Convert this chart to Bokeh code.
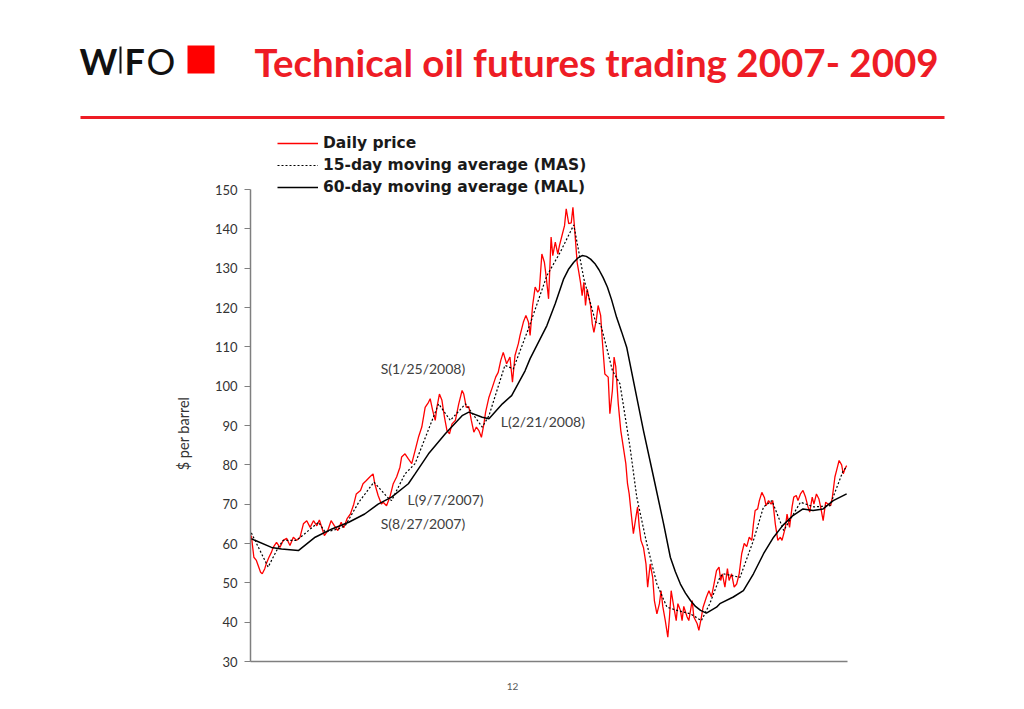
import math
from bokeh.plotting import figure
from bokeh.models import (Range1d, FixedTicker, Label, Legend, LegendItem, BoxAnnotation)
from bokeh.embed import file_html
from bokeh.resources import INLINE

# ---------------- data (trading-day index since early Jan 2007) ----------------
price_day = [1, 4, 7, 12, 14, 17, 19, 22, 25, 27, 31, 35, 39, 43, 47, 51, 55, 59, 63, 67,
             71, 75, 79, 82, 85, 88, 92, 96, 100, 104, 108, 111, 115, 119, 123, 126, 131, 134, 138, 142,
             146, 148, 152, 156, 158, 162, 166, 170, 174, 178, 180, 184, 188, 192, 196, 200, 204, 208, 212, 214,
             217, 220, 222, 225, 228, 231, 234, 237, 240, 244, 248, 252, 254, 257, 260, 263, 266, 269, 272, 275,
             278, 280, 284, 288, 292, 295, 298, 301, 305, 309, 312, 315, 319, 321, 325, 328, 331, 333, 336, 339,
             342, 344, 347, 350, 352, 355, 358, 360, 363, 366, 368, 371, 374, 376, 379, 382, 384, 386, 389, 391,
             393, 395, 397, 399, 401, 405, 407, 409, 412, 414, 417, 419, 422, 426, 428, 431, 433, 435, 438, 441,
             444, 447, 449, 451, 453, 456, 459, 461, 463, 465, 468, 471, 473, 476, 479, 481, 484, 487, 489, 491,
             494, 497, 499, 501, 504, 507, 509, 512, 514, 516, 520, 522, 526, 528, 532, 534, 537, 539, 543, 546,
             549, 552, 555, 558, 560, 562, 565, 568, 570, 573, 576, 579, 582, 585, 588, 591, 594, 597, 599, 601,
             604, 606, 609, 612, 614, 617, 620, 622, 625, 628, 631, 633, 637, 639, 642, 645, 647, 650, 652, 655,
             658, 661, 664, 666, 669, 671, 674, 677, 679, 682, 685, 688, 691, 693, 696, 699, 701, 704, 706, 708,
             710]
price = [62.0, 56.5, 55.7, 52.7, 52.3, 53.6, 55.0, 56.5, 57.8, 59.0, 60.3, 59.0, 60.8, 61.3, 59.5, 61.6, 60.8, 61.6, 65.0, 65.8,
         64.1, 65.8, 64.5, 66.0, 64.0, 62.0, 63.3, 65.8, 64.5, 63.3, 65.4, 64.0, 66.3, 67.5, 70.0, 72.6, 73.5, 75.2, 76.0, 76.9,
         77.7, 75.2, 72.2, 70.0, 70.5, 69.6, 71.8, 75.2, 76.9, 79.4, 82.0, 82.8, 81.5, 80.3, 83.6, 87.0, 89.6, 94.6, 95.9, 96.8,
         93.8, 91.3, 94.6, 98.0, 96.4, 92.1, 88.7, 87.9, 90.4, 91.3, 95.5, 98.9, 98.0, 94.6, 94.8, 91.3, 88.3, 89.6, 88.7, 87.0,
         90.4, 93.4, 97.2, 99.7, 102.3, 103.5, 106.5, 108.6, 105.7, 107.4, 101.0, 107.8, 110.8, 112.9, 116.3, 118.0, 116.3, 112.9, 120.5, 125.2,
         123.9, 124.5, 133.6, 131.5, 128.1, 122.2, 137.9, 133.2, 136.6, 133.6, 135.8, 138.3, 140.8, 145.1, 141.3, 141.5, 145.5, 140.0, 131.5, 129.0,
         126.4, 123.0, 126.4, 120.5, 124.7, 120.5, 115.9, 113.7, 117.1, 120.5, 118.0, 111.6, 103.1, 102.3, 93.0, 98.9, 107.4, 105.0, 95.5, 88.7,
         84.5, 80.3, 75.2, 72.6, 68.4, 62.5, 66.7, 69.3, 64.3, 60.8, 59.0, 54.8, 48.9, 54.8, 51.4, 45.5, 42.1, 44.7, 48.0, 44.0,
         40.4, 36.2, 41.3, 48.0, 44.0, 40.4, 44.7, 43.0, 40.4, 44.0, 41.3, 40.4, 45.5, 41.3, 39.6, 37.9, 41.3, 43.8, 46.4, 48.0,
         46.4, 49.7, 53.1, 54.0, 50.6, 52.3, 48.9, 53.6, 50.6, 52.3, 48.9, 49.7, 52.3, 57.4, 60.0, 59.2, 61.6, 60.8, 65.0, 68.4,
         68.8, 70.9, 73.0, 71.7, 69.6, 70.9, 70.0, 70.9, 65.0, 60.8, 61.6, 60.8, 64.1, 67.5, 64.1, 69.3, 71.8, 72.2, 70.9, 72.6,
         73.5, 71.8, 69.3, 68.0, 71.8, 70.0, 72.6, 71.3, 69.3, 65.8, 70.5, 70.0, 69.6, 71.8, 76.9, 79.4, 81.1, 80.0, 77.7, 79.0,
         79.8]

mas_day = [1, 21, 33, 39, 55, 81, 89, 105, 113, 129, 147, 163, 168, 184, 196, 224, 238, 256, 276, 284,
           303, 313, 331, 353, 369, 385, 397, 411, 417, 431, 440, 452, 460, 472, 484, 496, 508, 524, 537, 547,
           559, 563, 583, 599, 611, 621, 635, 655, 671, 690, 706, 710]
mas = [62.7, 54.0, 59.0, 60.8, 60.8, 65.4, 62.9, 63.7, 64.6, 70.5, 75.6, 71.8, 70.9, 77.7, 80.3, 95.5, 91.3, 95.5, 89.6, 92.5,
       105.3, 104.4, 114.6, 128.1, 134.1, 141.0, 127.3, 116.3, 115.8, 104.0, 100.6, 84.5, 71.8, 59.9, 49.7, 43.8, 43.0, 42.1, 40.4, 44.7,
       51.4, 52.3, 51.4, 60.8, 69.3, 70.9, 63.3, 70.5, 69.3, 69.6, 78.6, 79.4]

mal_day = [1, 25, 37, 57, 77, 97, 117, 136, 152, 168,
           188, 196, 212, 232, 252, 260, 276, 284, 300, 311,
           327, 333, 353, 363, 373, 379, 385, 390, 395, 400,
           405, 410, 415, 420, 425, 430, 436, 442, 448, 456,
           468, 480, 492, 500, 506, 512, 518, 524, 530, 536,
           543, 555, 559, 575, 587, 599, 611, 623, 634, 646,
           658, 670, 682, 694, 710]
mal = [61.2, 59.0, 58.6, 58.2, 61.6, 63.7, 65.4, 67.5, 70.0, 71.8,
       75.2, 77.7, 82.8, 87.9, 92.5, 93.4, 92.1, 91.7, 95.5, 97.6,
       103.9, 107.0, 115.4, 121.0, 127.3, 129.8, 131.5, 132.6, 133.2, 133.0,
       132.3, 131.2, 129.6, 127.6, 125.2, 122.0, 117.5, 113.8, 109.9, 101.4,
       88.7, 76.9, 65.0, 56.5, 52.8, 49.7, 47.4, 45.5, 44.0, 43.0,
       42.3, 43.8, 44.7, 46.4, 48.0, 52.3, 57.4, 61.6, 64.6, 67.1,
       68.8, 68.4, 68.8, 70.9, 72.6]

y_ticks = [30, 40, 50, 60, 70, 80, 90, 100, 110, 120, 130, 140, 150]
series_names = ["Daily price", "15-day moving average (MAS)", "60-day moving average (MAL)"]
signal_labels = ["S(1/25/2008)", "L(2/21/2008)", "L(9/7/2007)", "S(8/27/2007)"]
signal_x = [155, 298, 187, 155]
signal_y = [104.5, 91.0, 71.2, 65.1]

assert len(price_day) == len(price)
assert len(mas_day) == len(mas)
assert len(mal_day) == len(mal)

# ---------------- layout geometry ----------------
DAY_MAX = 711          # last day of the plotted span
Y_MIN, Y_MAX = 30, 150
AX_L, AX_R = 250, 847  # page pixels of the data area (x)
AX_T, AX_B = 189, 661  # page pixels of the data area (y)
W, H = 1020, 705
FL, FR, FT, FB = 60, W, 0, 693   # frame edges on the page


def dx(px):
    return (px - AX_L) * DAY_MAX / (AX_R - AX_L)


def dy(py):
    return Y_MAX - (py - AX_T) * (Y_MAX - Y_MIN) / (AX_B - AX_T)


p = figure(width=W, height=H, output_backend="svg", toolbar_location=None,
           x_range=Range1d(dx(FL), dx(FR)), y_range=Range1d(dy(FB), dy(FT)),
           min_border_left=FL, min_border_right=W - FR, min_border_top=FT, min_border_bottom=H - FB)
p.outline_line_color = None
p.grid.visible = False
p.background_fill_color = "white"
p.border_fill_color = "white"

FONT = "Lato"

r_price = p.line(price_day, price, line_color="#ff0000", line_width=1.3)
r_mas = p.line(mas_day, mas, line_color="black", line_width=1.2, line_dash="2 2")
r_mal = p.line(mal_day, mal, line_color="black", line_width=1.5)

# axes (pinned to the data area)
p.yaxis.fixed_location = 0
p.yaxis.bounds = (Y_MIN, Y_MAX)
p.yaxis.ticker = FixedTicker(ticks=y_ticks)
p.yaxis.axis_line_color = "#7f7f7f"
p.yaxis.axis_line_width = 1.5
p.yaxis.major_tick_line_color = "#7f7f7f"
p.yaxis.major_tick_in = 0
p.yaxis.major_tick_out = 6
p.yaxis.minor_tick_line_color = None
p.yaxis.major_label_text_font = FONT
p.yaxis.major_label_text_font_size = "13px"
p.yaxis.major_label_text_color = "#333333"
p.yaxis.major_label_standoff = 7

p.xaxis.fixed_location = Y_MIN
p.xaxis.bounds = (0, DAY_MAX)
p.xaxis.ticker = FixedTicker(ticks=[])
p.xaxis.axis_line_color = "#7f7f7f"
p.xaxis.axis_line_width = 1.5
p.xaxis.major_tick_line_color = None
p.xaxis.minor_tick_line_color = None
p.xaxis.major_label_text_font_size = "0px"

p.add_layout(Label(x=dx(183), y=dy(433), text="$ per barrel", angle=math.pi / 2,
                   text_font=FONT, text_font_size="14.5px", text_color="#333333",
                   text_align="center", text_baseline="middle"))

# legend
legend = Legend(items=[LegendItem(label=series_names[0], renderers=[r_price]),
                       LegendItem(label=series_names[1], renderers=[r_mas]),
                       LegendItem(label=series_names[2], renderers=[r_mal])],
                location=(277 - FL, FB - 197), orientation="vertical",
                label_text_font="DejaVu Sans", label_text_font_style="bold",
                label_text_font_size="15.5px", label_text_color="#1a1a1a",
                glyph_width=41, glyph_height=20, label_height=20, label_standoff=5,
                spacing=2, padding=0, margin=0,
                border_line_color=None, background_fill_alpha=0)
p.add_layout(legend)

# signal annotations
for t, sx, sy in zip(signal_labels, signal_x, signal_y):
    p.add_layout(Label(x=sx, y=sy, text=t, text_font=FONT, text_font_size="14px",
                       text_color="#404040", text_baseline="middle", text_align="left"))

# header
p.add_layout(Label(x=dx(254), y=dy(61), text="Technical oil futures trading 2007- 2009",
                   text_font=FONT, text_font_style="bold", text_font_size="38.5px",
                   text_color="#ee1c25", text_baseline="middle", text_align="left"))
p.add_layout(Label(x=dx(79), y=dy(60), text="W", text_font=FONT, text_font_style="bold",
                   text_font_size="36px", text_color="#111111", text_baseline="middle"))
p.add_layout(BoxAnnotation(left=dx(119), right=dx(121), top=dy(46), bottom=dy(73),
                           fill_color="#111111", fill_alpha=1, line_color=None))
p.add_layout(Label(x=dx(124), y=dy(60), text="F", text_font=FONT, text_font_style="bold",
                   text_font_size="36px", text_color="#111111", text_baseline="middle"))
p.add_layout(Label(x=dx(146), y=dy(60), text="O", text_font=FONT, text_font_style="normal",
                   text_font_size="36px", text_color="#111111", text_baseline="middle"))
p.add_layout(BoxAnnotation(left=dx(187), right=dx(214), top=dy(45), bottom=dy(73),
                           fill_color="#ff0000", fill_alpha=1, line_color=None))
p.add_layout(BoxAnnotation(left=dx(80), right=dx(944), top=dy(115.5), bottom=dy(118.5),
                           fill_color="#ee1c25", fill_alpha=1, line_color=None))

# page number
p.add_layout(Label(x=dx(512), y=dy(686), text="12", text_font=FONT, text_font_size="10px",
                   text_color="#595959", text_baseline="middle", text_align="center"))

open("out.html", "w").write(file_html(p, INLINE))
